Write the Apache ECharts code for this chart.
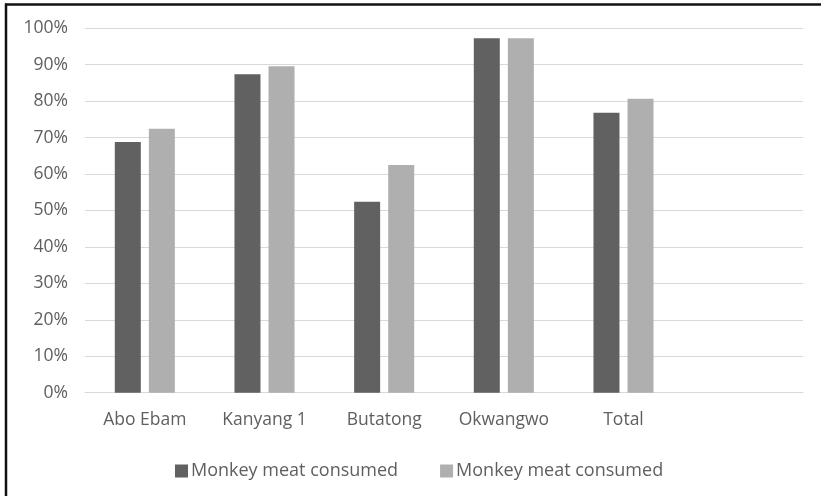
<!DOCTYPE html>
<html>
<head>
<meta charset="utf-8">
<script src="https://cdn.jsdelivr.net/npm/echarts@6/dist/echarts.min.js"></script>
<style>
  html, body { margin: 0; padding: 0; background: #ffffff; }
  #chart { width: 821px; height: 496px; }
</style>
</head>
<body>
<div id="chart"></div>
<script>
// Share of households that consumed monkey meat, by village
const categories = ['Abo Ebam', 'Kanyang 1', 'Butatong', 'Okwangwo', 'Total', ''];
const seriesNames = ['Monkey meat consumed', 'Monkey meat consumed'];
const darkValues = [68.8, 87.4, 52.4, 97.3, 76.8, null];
const lightValues = [72.4, 89.6, 62.5, 97.3, 80.7, null];
const yTicks = [0, 10, 20, 30, 40, 50, 60, 70, 80, 90, 100];

const chart = echarts.init(document.getElementById('chart'), null, { renderer: 'canvas' });

const textColor = '#5f5f5f';
const font = 'Open Sans';

chart.setOption({
  animation: false,
  backgroundColor: '#ffffff',
  grid: { left: 85, right: 18, top: 28.3, bottom: 103.3, containLabel: false },
  legend: {
    left: 170,
    top: 457,
    itemWidth: 13,
    itemHeight: 13,
    itemGap: 42,
    icon: 'rect',
    textStyle: { color: textColor, fontFamily: font, fontSize: 18, padding: [0, 0, 0, -2] },
    data: [
      { name: seriesNames[0], itemStyle: { color: '#616161' } },
      { name: seriesNames[1] + ' ', itemStyle: { color: '#afafaf' } }
    ]
  },
  xAxis: {
    type: 'category',
    data: categories,
    axisLine: { show: true, lineStyle: { color: '#d9d9d9', width: 1 } },
    axisTick: { show: false },
    axisLabel: { color: textColor, fontFamily: font, fontSize: 17.5, margin: 18 }
  },
  yAxis: {
    type: 'value',
    min: yTicks[0],
    max: yTicks[yTicks.length - 1],
    interval: 10,
    axisLine: { show: false },
    axisTick: { show: false },
    splitLine: { lineStyle: { color: '#d9d9d9', width: 1 } },
    axisLabel: { color: textColor, fontFamily: font, fontSize: 17.5, margin: 17, formatter: '{value}%' }
  },
  series: [
    {
      name: seriesNames[0],
      type: 'bar',
      data: darkValues,
      barWidth: 26,
      barGap: '31%',
      itemStyle: { color: '#616161' }
    },
    {
      name: seriesNames[1] + ' ',
      type: 'bar',
      data: lightValues,
      barWidth: 26,
      itemStyle: { color: '#afafaf' }
    }
  ],
  graphic: [
    { type: 'line', shape: { x1: 5, y1: 4.5, x2: 821, y2: 4.5 }, style: { stroke: '#111111', lineWidth: 2.5 }, silent: true },
    { type: 'line', shape: { x1: 6, y1: 3.5, x2: 6, y2: 496 }, style: { stroke: '#111111', lineWidth: 2.5 }, silent: true }
  ]
});
</script>
</body>
</html>
